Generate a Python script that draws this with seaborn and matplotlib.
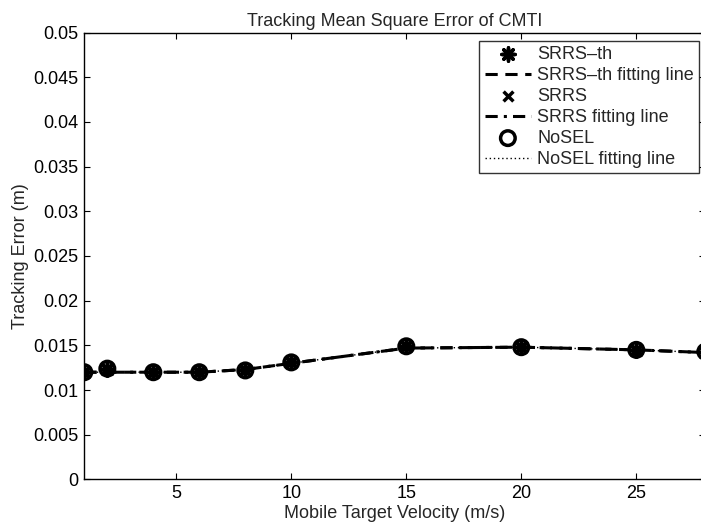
import matplotlib
matplotlib.use("Agg")
import matplotlib.pyplot as plt
import seaborn as sns
import pandas as pd

# Target velocities (m/s)
velocity = [1, 2, 4, 6, 8, 10, 15, 20, 25, 28]

# Measured tracking errors (m)
srrs_th = [0.0120, 0.0124, 0.0120, 0.0120, 0.0122, 0.0131, 0.0149, 0.0148, 0.0145, 0.0143]
srrs = [0.0120, 0.0124, 0.0120, 0.0120, 0.0122, 0.0131, 0.0149, 0.0148, 0.0145, 0.0143]
nosel = [0.0120, 0.0124, 0.0120, 0.0120, 0.0122, 0.0131, 0.0149, 0.0148, 0.0145, 0.0143]

# Fitted curves evaluated at the same velocities
srrs_th_fit = [0.0120, 0.0120, 0.0120, 0.0120, 0.0123, 0.0130, 0.0147, 0.0148, 0.0145, 0.0142]
srrs_fit = [0.0120, 0.0120, 0.0120, 0.0120, 0.0123, 0.0130, 0.0147, 0.0148, 0.0145, 0.0142]
nosel_fit = [0.0120, 0.0120, 0.0120, 0.0120, 0.0123, 0.0130, 0.0147, 0.0148, 0.0145, 0.0142]

y_ticks = [0, 0.005, 0.01, 0.015, 0.02, 0.025, 0.03, 0.035, 0.04, 0.045, 0.05]
y_tick_labels = ["0", "0.005", "0.01", "0.015", "0.02", "0.025", "0.03", "0.035", "0.04", "0.045", "0.05"]
x_ticks = [5, 10, 15, 20, 25]

df = pd.DataFrame({
    "v": velocity,
    "srrs_th": srrs_th, "srrs": srrs, "nosel": nosel,
    "srrs_th_fit": srrs_th_fit, "srrs_fit": srrs_fit, "nosel_fit": nosel_fit,
})

sns.set_style("ticks")
plt.rcParams["font.family"] = ["Liberation Sans", "DejaVu Sans"]
plt.rcParams["xtick.direction"] = "in"
plt.rcParams["ytick.direction"] = "in"

FS = 13

fig = plt.figure(figsize=(7.01, 5.32), dpi=100)
ax = fig.add_axes([0.1203, 0.0987, 0.8858, 0.8402])

lw = 2.2
sns.lineplot(data=df, x="v", y="srrs_th_fit", ax=ax, color="black", lw=lw,
             linestyle=(0, (4, 2.5)), label="SRRS\u2013th fitting line", zorder=3)
sns.lineplot(data=df, x="v", y="srrs_fit", ax=ax, color="black", lw=lw,
             linestyle=(0, (4, 2, 1, 2)), label="SRRS fitting line", zorder=3)
sns.lineplot(data=df, x="v", y="nosel_fit", ax=ax, color="black", lw=1.0,
             linestyle=(0, (1, 2)), label="NoSEL fitting line", zorder=3)

sns.scatterplot(data=df, x="v", y="nosel", ax=ax, marker="o", s=110,
                facecolor="none", edgecolor="black", linewidth=2.5,
                label="NoSEL", zorder=4)
sns.scatterplot(data=df, x="v", y="srrs_th", ax=ax, marker=(8, 2, 0), s=90,
                color="black", edgecolor="black", linewidth=2.5,
                label="SRRS\u2013th", zorder=5)
sns.scatterplot(data=df, x="v", y="srrs", ax=ax, marker="x", s=50,
                color="black", linewidth=2.5, label="SRRS", zorder=5)

ax.set_xlim(1, 28)
ax.set_ylim(0, 0.05)
ax.set_xticks(x_ticks)
ax.set_xticklabels([str(t) for t in x_ticks])
ax.set_yticks(y_ticks)
ax.set_yticklabels(y_tick_labels)
ax.tick_params(axis="both", which="both", direction="in", length=4, width=0.8,
               top=True, right=True, labelsize=FS, pad=4, colors="black")
for sp in ax.spines.values():
    sp.set_visible(True)
    sp.set_linewidth(1.0)
    sp.set_color("black")

ax.set_xlabel("Mobile Target Velocity (m/s)", fontsize=FS, labelpad=2)
ax.set_ylabel("Tracking Error (m)", fontsize=FS, labelpad=3)
ax.set_title("Tracking Mean Square Error of CMTI", fontsize=FS, pad=5)

handles, labels = ax.get_legend_handles_labels()
order = ["SRRS\u2013th", "SRRS\u2013th fitting line", "SRRS", "SRRS fitting line",
         "NoSEL", "NoSEL fitting line"]
hmap = dict(zip(labels, handles))
leg = ax.legend([hmap[k] for k in order], order, loc="upper right",
                bbox_to_anchor=(0.9905, 0.982), fontsize=FS, frameon=True,
                fancybox=False, edgecolor="black", handlelength=2.55,
                labelspacing=0.22, borderpad=0.3, handletextpad=0.35,
                borderaxespad=0.0, scatterpoints=1)
leg.get_frame().set_linewidth(1.0)

fig.savefig("out.png", dpi=100)
